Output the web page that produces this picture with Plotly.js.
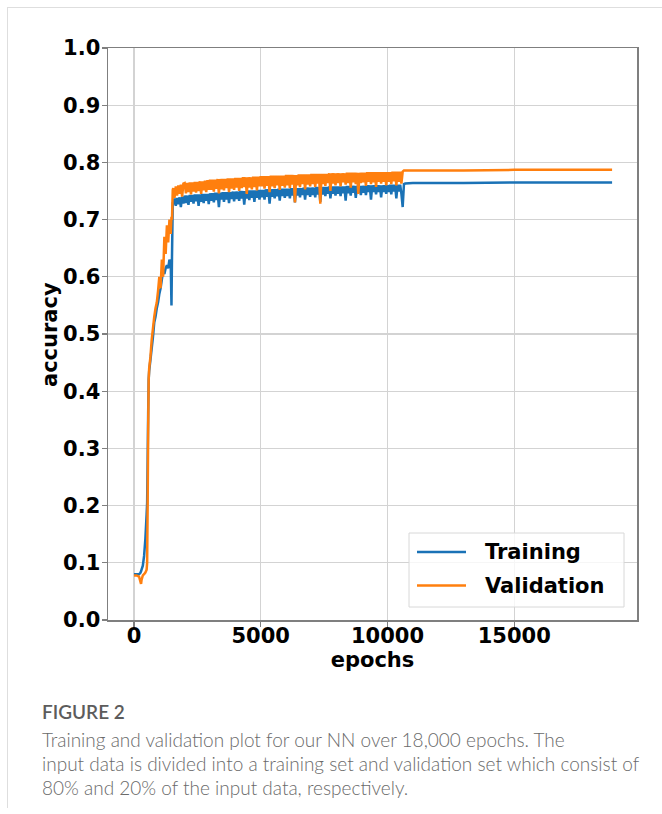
<!DOCTYPE html>
<html>
<head>
<meta charset="utf-8">
<script src="https://cdn.plot.ly/plotly-3.0.1.min.js"></script>
<style>
  html, body { margin: 0; padding: 0; background: #fff; }
  #wrap { position: relative; width: 662px; height: 814px; overflow: hidden; }
  #card { position: absolute; left: 7px; top: 7px; width: 660px; height: 800px;
          border-top: 1.5px solid #dedede; border-left: 1.5px solid #dedede; }
  #chart { position: absolute; left: 0; top: 0; width: 662px; height: 814px; }
</style>
</head>
<body>
<div id="wrap">
  <div id="card"></div>
  <div id="chart"></div>
</div>
<script>
// ---- data ----
const earlyEpochs = [0, 100, 200, 250, 280, 300, 350, 400, 450, 500, 520, 540, 560, 580, 600, 650, 700, 750, 800, 850, 900, 950, 1000, 1050, 1100, 1150, 1200, 1250, 1300, 1350, 1400, 1450, 1480, 1500, 1530];
const earlyTrain = [0.080, 0.080, 0.080, 0.082, 0.085, 0.088, 0.095, 0.112, 0.142, 0.185, 0.205, 0.280, 0.360, 0.420, 0.435, 0.455, 0.475, 0.495, 0.520, 0.530, 0.545, 0.555, 0.570, 0.580, 0.595, 0.610, 0.605, 0.615, 0.620, 0.615, 0.630, 0.625, 0.550, 0.635, 0.728];
const earlyVal = [0.078, 0.078, 0.076, 0.068, 0.063, 0.070, 0.078, 0.080, 0.083, 0.088, 0.100, 0.200, 0.330, 0.420, 0.440, 0.460, 0.490, 0.510, 0.530, 0.545, 0.555, 0.575, 0.600, 0.580, 0.630, 0.600, 0.670, 0.640, 0.690, 0.660, 0.700, 0.675, 0.705, 0.700, 0.752];

const midEpochs = [
  1550, 1600, 1650, 1700, 1750, 1800, 1850, 1900, 1950,
  2000, 2050, 2100, 2150, 2200, 2250, 2300, 2350, 2400, 2450, 2500, 2550, 2600, 2650, 2700, 2750, 2800, 2850, 2900, 2950,
  3000, 3050, 3100, 3150, 3200, 3250, 3300, 3350, 3400, 3450, 3500, 3550, 3600, 3650, 3700, 3750, 3800, 3850, 3900, 3950,
  4000, 4050, 4100, 4150, 4200, 4250, 4300, 4350, 4400, 4450, 4500, 4550, 4600, 4650, 4700, 4750, 4800, 4850, 4900, 4950,
  5000, 5050, 5100, 5150, 5200, 5250, 5300, 5350, 5400, 5450, 5500, 5550, 5600, 5650, 5700, 5750, 5800, 5850, 5900, 5950,
  6000, 6050, 6100, 6150, 6200, 6250, 6300, 6350, 6400, 6450, 6500, 6550, 6600, 6650, 6700, 6750, 6800, 6850, 6900, 6950,
  7000, 7050, 7100, 7150, 7200, 7250, 7300, 7350, 7400, 7450, 7500, 7550, 7600, 7650, 7700, 7750, 7800, 7850, 7900, 7950,
  8000, 8050, 8100, 8150, 8200, 8250, 8300, 8350, 8400, 8450, 8500, 8550, 8600, 8650, 8700, 8750, 8800, 8850, 8900, 8950,
  9000, 9050, 9100, 9150, 9200, 9250, 9300, 9350, 9400, 9450, 9500, 9550, 9600, 9650, 9700, 9750, 9800, 9850, 9900, 9950,
  10000, 10050, 10100, 10150, 10200, 10250, 10300, 10350, 10400, 10450, 10500, 10550, 10600];
const midTrain = [
  0.728, 0.737, 0.724, 0.738, 0.727, 0.739, 0.722, 0.740, 0.728,
  0.742, 0.729, 0.742, 0.726, 0.743, 0.731, 0.743, 0.728, 0.744, 0.732, 0.744, 0.724, 0.744, 0.731, 0.745, 0.729, 0.745, 0.733, 0.745, 0.727,
  0.746, 0.733, 0.746, 0.730, 0.747, 0.734, 0.747, 0.722, 0.747, 0.735, 0.748, 0.731, 0.748, 0.735, 0.748, 0.729, 0.748, 0.736, 0.749, 0.732,
  0.749, 0.736, 0.749, 0.733, 0.750, 0.737, 0.750, 0.726, 0.750, 0.737, 0.751, 0.734, 0.751, 0.738, 0.751, 0.731, 0.751, 0.738, 0.752, 0.735,
  0.752, 0.739, 0.752, 0.735, 0.753, 0.740, 0.753, 0.728, 0.753, 0.740, 0.753, 0.737, 0.753, 0.741, 0.754, 0.733, 0.754, 0.741, 0.754, 0.738,
  0.754, 0.741, 0.754, 0.737, 0.755, 0.742, 0.755, 0.730, 0.755, 0.742, 0.755, 0.739, 0.755, 0.743, 0.756, 0.735, 0.756, 0.743, 0.756, 0.740,
  0.756, 0.743, 0.756, 0.739, 0.757, 0.744, 0.757, 0.731, 0.757, 0.744, 0.757, 0.741, 0.757, 0.745, 0.758, 0.737, 0.758, 0.745, 0.758, 0.742,
  0.758, 0.745, 0.758, 0.741, 0.758, 0.746, 0.758, 0.733, 0.759, 0.746, 0.759, 0.742, 0.759, 0.747, 0.759, 0.738, 0.759, 0.747, 0.759, 0.743,
  0.759, 0.747, 0.759, 0.743, 0.760, 0.748, 0.760, 0.735, 0.760, 0.748, 0.760, 0.744, 0.760, 0.748, 0.760, 0.739, 0.760, 0.748, 0.760, 0.745,
  0.760, 0.748, 0.761, 0.744, 0.761, 0.749, 0.761, 0.737, 0.761, 0.749, 0.761, 0.745, 0.722];
const midVal = [
  0.755, 0.738, 0.758, 0.742, 0.760, 0.745, 0.761, 0.740, 0.763,
  0.764, 0.746, 0.764, 0.748, 0.765, 0.744, 0.765, 0.749, 0.766, 0.747, 0.766, 0.750, 0.767, 0.745, 0.767, 0.751, 0.768, 0.748, 0.769, 0.752,
  0.770, 0.752, 0.770, 0.749, 0.770, 0.754, 0.771, 0.746, 0.771, 0.753, 0.771, 0.751, 0.771, 0.755, 0.772, 0.748, 0.772, 0.754, 0.772, 0.752,
  0.773, 0.756, 0.773, 0.750, 0.773, 0.755, 0.774, 0.757, 0.774, 0.745, 0.774, 0.756, 0.774, 0.753, 0.775, 0.757, 0.775, 0.751, 0.775, 0.758,
  0.776, 0.758, 0.776, 0.754, 0.776, 0.759, 0.776, 0.748, 0.777, 0.758, 0.777, 0.755, 0.777, 0.760, 0.777, 0.752, 0.777, 0.759, 0.777, 0.756,
  0.778, 0.760, 0.778, 0.755, 0.778, 0.761, 0.778, 0.730, 0.778, 0.760, 0.779, 0.757, 0.779, 0.762, 0.779, 0.753, 0.779, 0.761, 0.779, 0.758,
  0.780, 0.762, 0.780, 0.757, 0.780, 0.763, 0.780, 0.728, 0.780, 0.762, 0.780, 0.759, 0.780, 0.764, 0.781, 0.750, 0.781, 0.763, 0.781, 0.760,
  0.781, 0.764, 0.781, 0.758, 0.781, 0.765, 0.781, 0.761, 0.782, 0.764, 0.782, 0.756, 0.782, 0.765, 0.782, 0.762, 0.782, 0.745, 0.782, 0.764,
  0.782, 0.765, 0.782, 0.759, 0.783, 0.766, 0.783, 0.762, 0.783, 0.765, 0.783, 0.757, 0.783, 0.766, 0.783, 0.763, 0.783, 0.766, 0.783, 0.760,
  0.783, 0.766, 0.783, 0.762, 0.784, 0.767, 0.784, 0.760, 0.784, 0.766, 0.784, 0.763, 0.784];

const lateEpochs = [10650, 10700, 11000, 13000, 15000, 17000, 18860];
const lateTrain = [0.762, 0.763, 0.764, 0.764, 0.765, 0.765, 0.765];
const lateVal = [0.786, 0.786, 0.786, 0.786, 0.787, 0.787, 0.787];

const seriesNames = ['Training', 'Validation'];
const seriesColors = ['#1a72b6', '#ff7f0e'];
const yTicks = [0.0, 0.1, 0.2, 0.3, 0.4, 0.5, 0.6, 0.7, 0.8, 0.9, 1.0];
const xTicks = [0, 5000, 10000, 15000];
const xTitle = 'epochs';
const yTitle = 'accuracy';

const captionTitle = 'FIGURE 2';
const captionLines = [
  'Training and validation plot for our NN over 18,000 epochs. The',
  'input data is divided into a training set and validation set which consist of',
  '80% and 20% of the input data, respectively.'
];

// ---- build ----
const epochsAll = earlyEpochs.concat(midEpochs, lateEpochs);
const trainAll = earlyTrain.concat(midTrain, lateTrain);
const valAll = earlyVal.concat(midVal, lateVal);

const W = 662, H = 814;
const M = {l: 108, r: 25, t: 48, b: 194};
const PW = W - M.l - M.r, PH = H - M.t - M.b;
const px = x => (x - M.l) / PW;
const py = y => (H - M.b - y) / PH;

const tickFont = {family: 'DejaVu Sans', size: 21, color: '#000', weight: 'bold'};

const traces = [
  {x: epochsAll, y: trainAll, name: seriesNames[0], type: 'scatter', mode: 'lines',
   line: {color: seriesColors[0], width: 2.5, simplify: false}},
  {x: epochsAll, y: valAll, name: seriesNames[1], type: 'scatter', mode: 'lines',
   line: {color: seriesColors[1], width: 2.5, simplify: false}}
];

// legend box drawn like the reference (matplotlib style)
const shapes = [
  {type: 'rect', xref: 'paper', yref: 'paper', layer: 'above',
   x0: px(409), x1: px(624), y0: py(607), y1: py(533),
   fillcolor: 'rgba(255,255,255,0.8)', line: {color: '#d8d8d8', width: 1}}
];
const annotations = [];
seriesNames.forEach((n, i) => {
  const yy = 552 + i * 33.5;
  shapes.push({type: 'line', xref: 'paper', yref: 'paper', layer: 'above',
    x0: px(417), x1: px(466), y0: py(yy), y1: py(yy),
    line: {color: seriesColors[i], width: 2.5}});
  annotations.push({text: n, xref: 'paper', yref: 'paper', x: px(483), y: py(yy),
    xanchor: 'left', yanchor: 'middle', showarrow: false, font: tickFont});
});

// y-axis title placed as in the reference
annotations.push({text: yTitle, xref: 'paper', yref: 'paper', x: px(50), y: py(335),
  xanchor: 'center', yanchor: 'middle', textangle: -90, showarrow: false, font: tickFont});

annotations.push({text: captionTitle, xref: 'paper', yref: 'paper', x: px(40), y: py(711),
   xanchor: 'left', yanchor: 'middle', showarrow: false,
   font: {family: 'Lato', size: 19, color: '#5c5c5c', weight: 600}});
captionLines.forEach((t, i) => {
  annotations.push({text: t, xref: 'paper', yref: 'paper', x: px(40), y: py(739 + i * 24),
    xanchor: 'left', yanchor: 'middle', showarrow: false,
    font: {family: 'Lato', size: 19, color: '#6a6a6a', weight: 300}});
});

const layout = {
  width: W, height: H,
  margin: M,
  paper_bgcolor: 'rgba(0,0,0,0)',
  plot_bgcolor: '#fff',
  showlegend: false,
  xaxis: {
    range: [-1024, 19843], tickvals: xTicks, ticktext: xTicks.map(String),
    showgrid: true, gridcolor: '#d3d3d3', gridwidth: 1.2,
    zeroline: false, showline: true, linecolor: '#7f7f7f', linewidth: 1.5, mirror: true,
    ticks: 'outside', ticklen: 5, tickcolor: '#7f7f7f', tickwidth: 1.2,
    tickfont: tickFont, ticklabelstandoff: -9,
    title: {text: xTitle, font: tickFont, standoff: 0}
  },
  yaxis: {
    range: [0, 1.0], tickvals: yTicks, tickformat: '.1f',
    showgrid: true, gridcolor: '#d3d3d3', gridwidth: 1.2,
    zeroline: false, showline: true, linecolor: '#7f7f7f', linewidth: 1.5, mirror: true,
    ticks: 'outside', ticklen: 5, tickcolor: '#7f7f7f', tickwidth: 1.2,
    tickfont: tickFont, ticklabelstandoff: -3
  },
  shapes: shapes,
  annotations: annotations
};

Plotly.newPlot('chart', traces, layout, {displayModeBar: false, staticPlot: true});
</script>
</body>
</html>
